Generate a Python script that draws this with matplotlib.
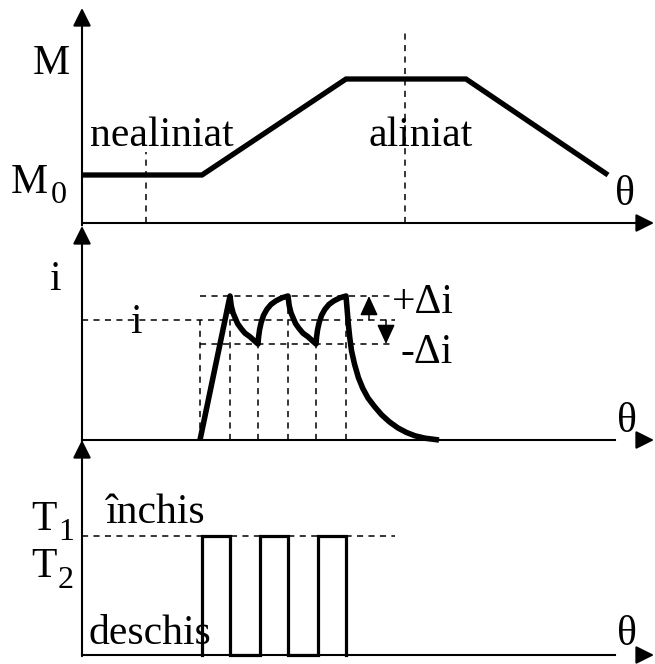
import numpy as np
import matplotlib.pyplot as plt

plt.rcParams['font.family'] = ['Liberation Serif', 'DejaVu Serif']

# rotor angle (arbitrary units) and inductance-like curve M(theta), in units of M0
theta_M = [0, 60, 132, 192, 263]
M_vals = [1, 1, 3, 3, 1]
theta_unaligned = 32
theta_aligned = 161.5
unaligned_top = 1.48
aligned_top = 4.0

# phase current, in units of the reference current
theta_i = [59, 74,
           74.6, 75.5, 76.5, 77.8, 79.5, 81.5, 84, 86, 88,
           88.3, 88.8, 89.6, 90.8, 92.5, 94.5, 97, 100, 103,
           103.6, 104.5, 105.5, 106.8, 108.5, 110.5, 113, 115, 117,
           117.3, 117.8, 118.6, 119.8, 121.5, 123.5, 126, 129, 132,
           132.6, 133.2, 133.9, 134.8, 136.3, 138.2, 140.4, 143, 146.2,
           149.8, 153.8, 158, 162.2, 166.5, 171.5, 178.5]
i_vals = [0, 1.2,
          1.12, 1.06, 1.02, 0.97, 0.93, 0.89, 0.86, 0.83, 0.8,
          0.86, 0.92, 0.98, 1.04, 1.09, 1.13, 1.16, 1.185, 1.2,
          1.12, 1.06, 1.02, 0.97, 0.93, 0.89, 0.86, 0.83, 0.8,
          0.86, 0.92, 0.98, 1.04, 1.09, 1.13, 1.16, 1.185, 1.2,
          1.08, 0.96, 0.85, 0.74, 0.63, 0.52, 0.43, 0.35, 0.28,
          0.21, 0.15, 0.10, 0.063, 0.035, 0.015, 0.0]
i_ref = 1.0
delta_i = 0.2
theta_ref_start = 59
theta_switch = [74, 88, 103, 117, 132]
switch_level = [1.2, 0.8, 1.2, 0.8, 1.2]

# transistor state: 1 = closed (T1), 0 = open
theta_T = [60, 60, 74, 74, 89, 89, 103, 103, 118, 118, 132, 132]
T_state = [0, 1, 1, 0, 0, 1, 1, 0, 0, 1, 1, 0]

W, H = 655, 664
fig = plt.figure(figsize=(W / 100, H / 100), dpi=100)

XMIN, XMAX = -41, 286.5
dash = (0, (4, 3.5))


def panel(y0, scale):
    # axes over the whole figure; value 0 sits at pixel row y0, scale px per unit
    ax = fig.add_axes([0, 0, 1, 1])
    ax.set_xlim(XMIN, XMAX)
    ax.set_ylim((y0 - H) / scale, y0 / scale)
    ax.axis('off')
    ax.patch.set_alpha(0)
    return ax


def arrow(ax, start, tip, lw=1.5, hl=1.1, hw=0.55):
    ax.annotate('', xy=tip, xytext=start,
                arrowprops=dict(arrowstyle=f'-|>,head_length={hl},head_width={hw}',
                                color='black', lw=lw, shrinkA=0, shrinkB=0,
                                mutation_scale=10))


def label(x, y, s, size=30, ha='left'):
    fig.text(x / W, 1 - y / H, s, fontsize=size, ha=ha, va='baseline')


# ---- top panel: M(theta)
ax1 = panel(223, 48)
arrow(ax1, (0, -0.05), (0, 215 / 48))
arrow(ax1, (0, 0), (286, 0))
ax1.plot(theta_M, M_vals, color='black', lw=3.8, solid_capstyle='butt',
         solid_joinstyle='miter')
ax1.plot([theta_unaligned] * 2, [0, unaligned_top], color='black', lw=1.1, ls=dash)
ax1.plot([theta_aligned] * 2, [0, aligned_top], color='black', lw=1.1, ls=dash)

# ---- middle panel: current
ax2 = panel(440, 120)
arrow(ax2, (0, -0.01), (0, 214 / 120))
ax2.plot([0, 266.5], [0, 0], color='black', lw=1.5)
arrow(ax2, (277.5, 0), (286, 0))
ax2.plot([0, 156.5], [i_ref, i_ref], color='black', lw=1.1, ls=dash)
ax2.plot([theta_ref_start, 155.5], [i_ref + delta_i] * 2, color='black', lw=1.1, ls=dash)
ax2.plot([theta_ref_start, 154], [i_ref - delta_i] * 2, color='black', lw=1.1, ls=dash)
ax2.plot([theta_ref_start] * 2, [0, i_ref], color='black', lw=1.1, ls=dash)
for th, lv in zip(theta_switch, switch_level):
    ax2.plot([th, th], [0, lv], color='black', lw=1.1, ls=dash)
ax2.plot(theta_i, i_vals, color='black', lw=4, solid_capstyle='butt',
         solid_joinstyle='round')
arrow(ax2, (143.5, i_ref), (143.5, i_ref + delta_i), lw=1.1, hl=1.2, hw=0.55)
arrow(ax2, (152, i_ref), (152, i_ref - delta_i), lw=1.1, hl=1.2, hw=0.55)

# ---- bottom panel: transistor state
ax3 = panel(655, 119)
arrow(ax3, (0, -0.01), (0, 215 / 119))
ax3.plot([0, 266.5], [0, 0], color='black', lw=1.5)
arrow(ax3, (277.5, 0), (286, 0))
ax3.plot([0, 156.5], [1, 1], color='black', lw=1.1, ls=dash)
ax3.plot(theta_T, T_state, color='black', lw=2.3, solid_joinstyle='miter')

# ---- texts
label(33, 74, 'M')
label(11, 193, 'M')
label(51, 203, '0', size=23)
label(90, 146, 'nealiniat')
label(369, 146, 'aliniat')
label(615, 205, 'θ')

label(49, 290, 'i')
label(136, 333, 'i', ha='center')
label(392, 313, '+Δi')
label(400, 363, '-Δi')
label(617, 432, 'θ')

label(31, 530, 'T')
label(58, 540, '1', size=23)
label(31, 577, 'T')
label(58, 588, '2', size=23)
label(106, 523, 'închis')
label(89, 644, 'deschis')
label(617, 645, 'θ')

fig.savefig('out.png', dpi=100)
